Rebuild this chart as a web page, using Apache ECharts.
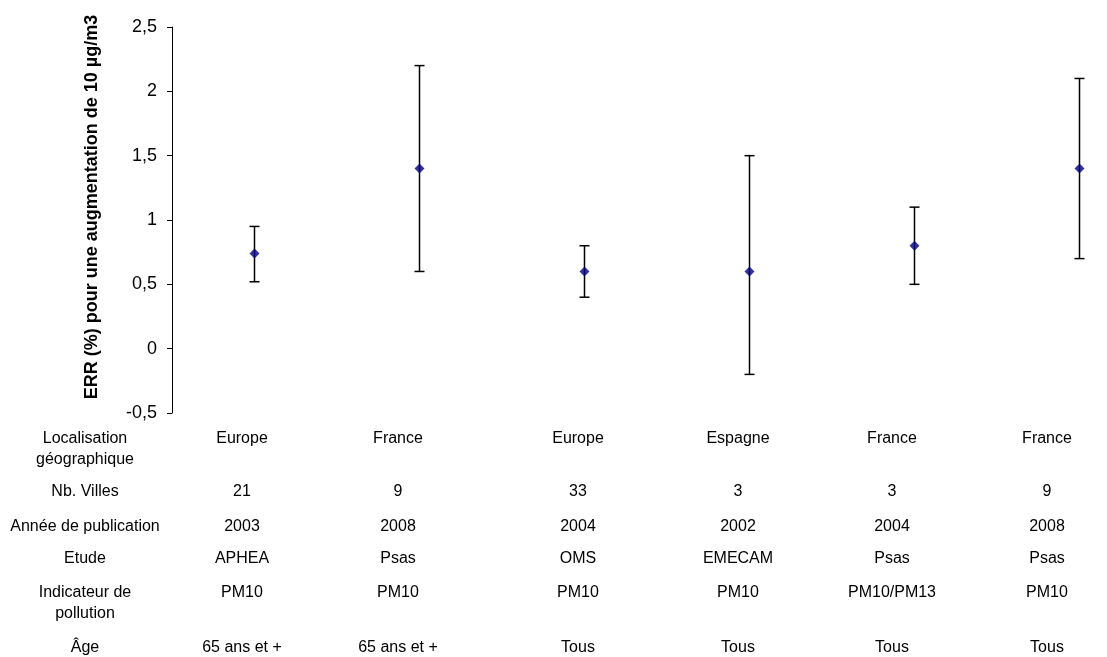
<!DOCTYPE html>
<html>
<head>
<meta charset="utf-8">
<script src="https://cdn.jsdelivr.net/npm/echarts@6/dist/echarts.min.js"></script>
<style>
  * { margin: 0; padding: 0; }
  body { background: #fff; }
  #chart { width: 1107px; height: 657px; }
</style>
</head>
<body>
<div id="chart"></div>
<script>
// data
const studies = ["APHEA", "Psas 2008", "OMS", "EMECAM", "Psas 2004", "Psas 2008b"];
const err = [0.74, 1.4, 0.6, 0.6, 0.8, 1.4];
const errLow = [0.52, 0.6, 0.4, -0.2, 0.5, 0.7];
const errHigh = [0.95, 2.2, 0.8, 1.5, 1.1, 2.1];

// table under the chart
const rowLabels = ["Localisation\ngéographique", "Nb. Villes", "Année de publication", "Etude", "Indicateur de\npollution", "Âge"];
const localisation = ["Europe", "France", "Europe", "Espagne", "France", "France"];
const nbVilles = ["21", "9", "33", "3", "3", "9"];
const annee = ["2003", "2008", "2004", "2002", "2004", "2008"];
const etude = ["APHEA", "Psas", "OMS", "EMECAM", "Psas", "Psas"];
const indicateur = ["PM10", "PM10", "PM10", "PM10", "PM10/PM13", "PM10"];
const age = ["65 ans et +", "65 ans et +", "Tous", "Tous", "Tous", "Tous"];

const FONT = "'Liberation Sans', Arial, sans-serif";

const dom = document.getElementById("chart");
const myChart = echarts.init(dom, null, { renderer: "canvas" });

// table layout (spreadsheet cells, not aligned to the plot)
const colX = [242, 398, 578, 738, 892, 1047];
const labelX = 85;
const rowY = [439, 492, 527, 559, 593, 648];
const rows = [localisation, nbVilles, annee, etude, indicateur, age];

const tableText = [];
function cell(text, x, y) {
  tableText.push({
    type: "text",
    x: x,
    y: y - 11,
    silent: true,
    style: {
      text: text,
      font: "16px " + FONT,
      fill: "#000",
      lineHeight: 21,
      align: "center",
      verticalAlign: "top",
      textAlign: "center",
      textVerticalAlign: "top",
    },
  });
}
rowLabels.forEach((lbl, r) => {
  cell(lbl, labelX, rowY[r]);
  rows[r].forEach((v, c) => cell(v, colX[c], rowY[r]));
});

const option = {
  animation: false,
  // the plot runs past the right edge of the picture (cropped in the source)
  grid: {
    left: 172,
    top: 27,
    bottom: 244,
    right: -55,
    outerBoundsMode: "none",
    containLabel: false,
  },
  xAxis: {
    type: "category",
    data: studies,
    axisLine: { show: false },
    axisTick: { show: false },
    axisLabel: { show: false },
    splitLine: { show: false },
  },
  yAxis: {
    type: "value",
    min: -0.5,
    max: 2.5,
    interval: 0.5,
    axisLine: { show: true, lineStyle: { color: "#000", width: 1 } },
    axisTick: { show: true, length: 5, lineStyle: { color: "#000" } },
    splitLine: { show: false },
    axisLabel: {
      color: "#000",
      fontFamily: FONT,
      fontSize: 18,
      margin: 15,
      formatter: (v) => String(v).replace(".", ","),
    },
  },
  graphic: [
    {
      type: "text",
      x: 92,
      y: 207,
      rotation: Math.PI / 2,
      silent: true,
      style: {
        text: "ERR (%) pour une augmentation de 10 µg/m3",
        font: "bold 18px " + FONT,
        fill: "#000",
        align: "center",
        verticalAlign: "middle",
        textAlign: "center",
        textVerticalAlign: "middle",
      },
    },
  ].concat(tableText),
  series: [
    {
      name: "IC",
      type: "custom",
      data: studies.map((s, i) => [i, errLow[i], errHigh[i]]),
      renderItem: (params, api) => {
        const lo = api.coord([api.value(0), api.value(1)]);
        const hi = api.coord([api.value(0), api.value(2)]);
        const half = 5;
        const st = { stroke: "#000", lineWidth: 1.5 };
        return {
          type: "group",
          children: [
            { type: "line", shape: { x1: lo[0], y1: lo[1], x2: hi[0], y2: hi[1] }, style: st },
            { type: "line", shape: { x1: lo[0] - half, y1: lo[1], x2: lo[0] + half, y2: lo[1] }, style: st },
            { type: "line", shape: { x1: hi[0] - half, y1: hi[1], x2: hi[0] + half, y2: hi[1] }, style: st },
          ],
        };
      },
      z: 2,
    },
    {
      name: "ERR",
      type: "scatter",
      symbol: "diamond",
      symbolSize: [10, 10],
      itemStyle: { color: "#000080" },
      data: err,
      z: 3,
    },
  ],
};

myChart.setOption(option);
window.addEventListener("resize", myChart.resize);
</script>
</body>
</html>
